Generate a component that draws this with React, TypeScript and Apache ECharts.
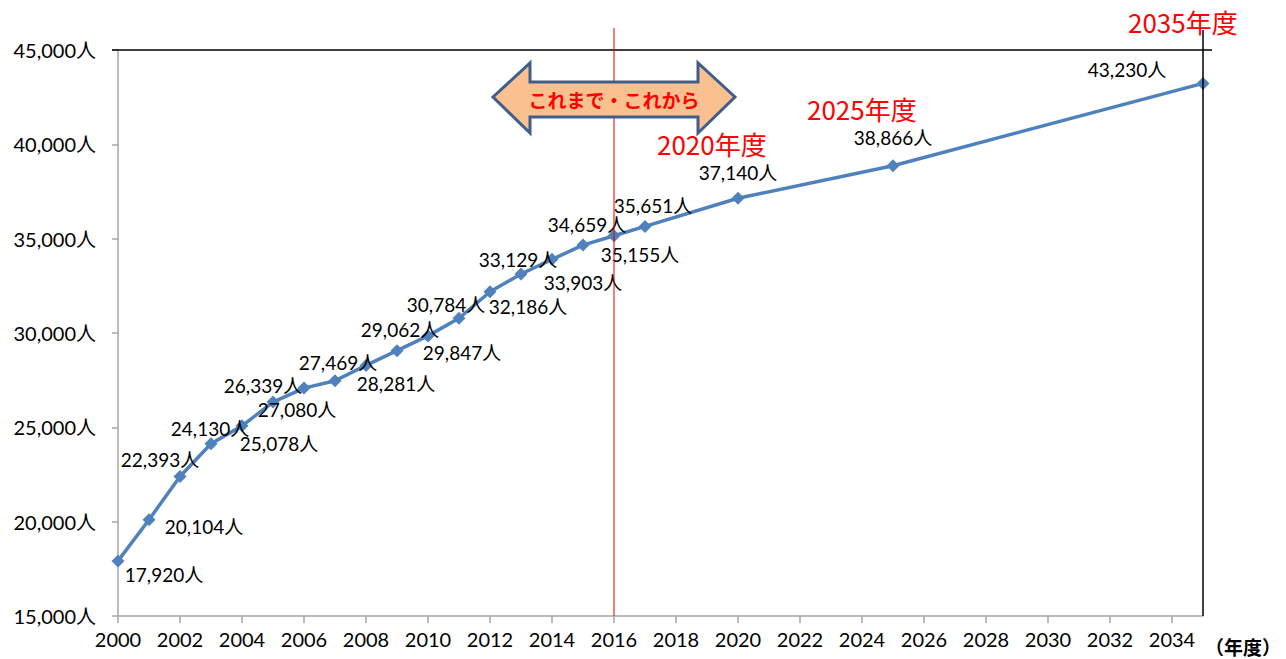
import React, { useEffect, useRef } from "react";
import * as echarts from "echarts";

const years = [2000, 2001, 2002, 2003, 2004, 2005, 2006, 2007, 2008, 2009, 2010, 2011, 2012, 2013, 2014, 2015, 2016, 2017, 2020, 2025, 2035];
const values = [17920, 20104, 22393, 24130, 25078, 26339, 27080, 27469, 28281, 29062, 29847, 30784, 32186, 33129, 33903, 34659, 35155, 35651, 37140, 38866, 43230];
const xTickValues = [2000, 2002, 2004, 2006, 2008, 2010, 2012, 2014, 2016, 2018, 2020, 2022, 2024, 2026, 2028, 2030, 2032, 2034];
const yMin = 15000;
const yMax = 45000;
const yStep = 5000;
const xMin = 2000;
const xMax = 2035;
const arrowText = "これまで・これから";
const redNotes = ["2020年度", "2025年度", "2035年度"];
const xUnit = "（年度）";

// label offsets (dx, dy) from each point, in px
const labelOffsets: [number, number][] = [
  [46, 14], [55, 7], [-20, -17], [-1, -15], [37, 18], [-10, -17], [-7, 21], [3, -18], [30, 18], [3, -21],
  [34, 17], [-13, -14], [38, 15], [-3, -14], [31, 23], [4, -21], [26, 19], [8, -21], [0, -26], [0, -28], [-76, -14],
];

const FONT = "Lato, 'Noto Sans CJK JP', sans-serif";
const CJK = "'Noto Sans CJK JP', sans-serif";

export default function App() {
  const ref = useRef<HTMLDivElement>(null);
  useEffect(() => {
    document.body.style.margin = "0";
    const chart = echarts.init(ref.current!, undefined, { renderer: "svg" });
    const fmt = (v: number) => v.toLocaleString("en-US") + "人";
    chart.setOption({
      animation: false,
      backgroundColor: "#fff",
      grid: { left: 118, right: 83, top: 50, bottom: 43 },
      xAxis: {
        type: "value",
        min: xMin,
        max: xMax,
        interval: 2,
        axisLine: { show: true, lineStyle: { color: "#a6a6a6", width: 1.5 } },
        axisTick: { show: true, length: 7, customValues: xTickValues, lineStyle: { color: "#a6a6a6", width: 1.5 } },
        axisLabel: { customValues: xTickValues, margin: 13, color: "#000", fontSize: 20, fontFamily: FONT, formatter: (v: number) => String(v) },
        splitLine: { show: false },
      },
      yAxis: {
        type: "value",
        min: yMin,
        max: yMax,
        interval: yStep,
        axisLine: { show: true, lineStyle: { color: "#a6a6a6", width: 1.5 } },
        axisTick: { show: true, length: 6, lineStyle: { color: "#a6a6a6", width: 1.5 } },
        axisLabel: { margin: 22, color: "#000", fontSize: 20, fontFamily: FONT, formatter: (v: number) => fmt(v) },
        splitLine: { show: false },
      },
      series: [
        {
          type: "line",
          data: years.map((y, i) => ({ value: [y, values[i]], label: { offset: labelOffsets[i] } })),
          symbol: "diamond",
          symbolSize: 13,
          lineStyle: { color: "#4f81bd", width: 3.5 },
          itemStyle: { color: "#4f81bd" },
          label: {
            show: true,
            position: "inside",
            color: "#000",
            fontSize: 19,
            fontFamily: FONT,
            formatter: (p: any) => fmt(p.value[1]),
          },
          z: 2,
        },
      ],
      graphic: [
        { type: "line", shape: { x1: 112, y1: 50, x2: 1212, y2: 50 }, style: { stroke: "#000", lineWidth: 1.5 }, z: 5 },
        { type: "line", shape: { x1: 1203, y1: 30, x2: 1203, y2: 616 }, style: { stroke: "#000", lineWidth: 1.5 }, z: 5 },
        { type: "line", shape: { x1: 614, y1: 28, x2: 614, y2: 616 }, style: { stroke: "#e00000", lineWidth: 1 }, z: 6 },
        {
          type: "polygon",
          shape: {
            points: [[493, 97], [530, 63], [530, 82], [698, 82], [698, 63], [735, 97], [698, 133], [698, 117], [530, 117], [530, 133]],
          },
          style: { fill: "#fac090", stroke: "#3f5f8a", lineWidth: 3, lineJoin: "miter" },
          z: 10,
        },
        {
          type: "text",
          x: 614, y: 99,
          style: { text: arrowText, fill: "#ff0000", font: `bold 19px ${CJK}`, textAlign: "center", textVerticalAlign: "middle", align: "center", verticalAlign: "middle" },
          z: 11,
        },
        {
          type: "text", x: 657, y: 143,
          style: { text: redNotes[0], fill: "#ff0000", font: `26px ${CJK}`, textAlign: "left", textVerticalAlign: "middle", align: "left", verticalAlign: "middle" },
          z: 11,
        },
        {
          type: "text", x: 807, y: 108,
          style: { text: redNotes[1], fill: "#ff0000", font: `26px ${CJK}`, textAlign: "left", textVerticalAlign: "middle", align: "left", verticalAlign: "middle" },
          z: 11,
        },
        {
          type: "text", x: 1128, y: 21,
          style: { text: redNotes[2], fill: "#ff0000", font: `26px ${CJK}`, textAlign: "left", textVerticalAlign: "middle", align: "left", verticalAlign: "middle" },
          z: 11,
        },
        {
          type: "text", x: 1205, y: 646,
          style: { text: xUnit, fill: "#000", font: `bold 19px ${CJK}`, textAlign: "left", textVerticalAlign: "middle", align: "left", verticalAlign: "middle" },
          z: 11,
        },
      ],
    });
    return () => chart.dispose();
  }, []);
  return <div ref={ref} style={{ width: 1286, height: 659 }} />;
}
